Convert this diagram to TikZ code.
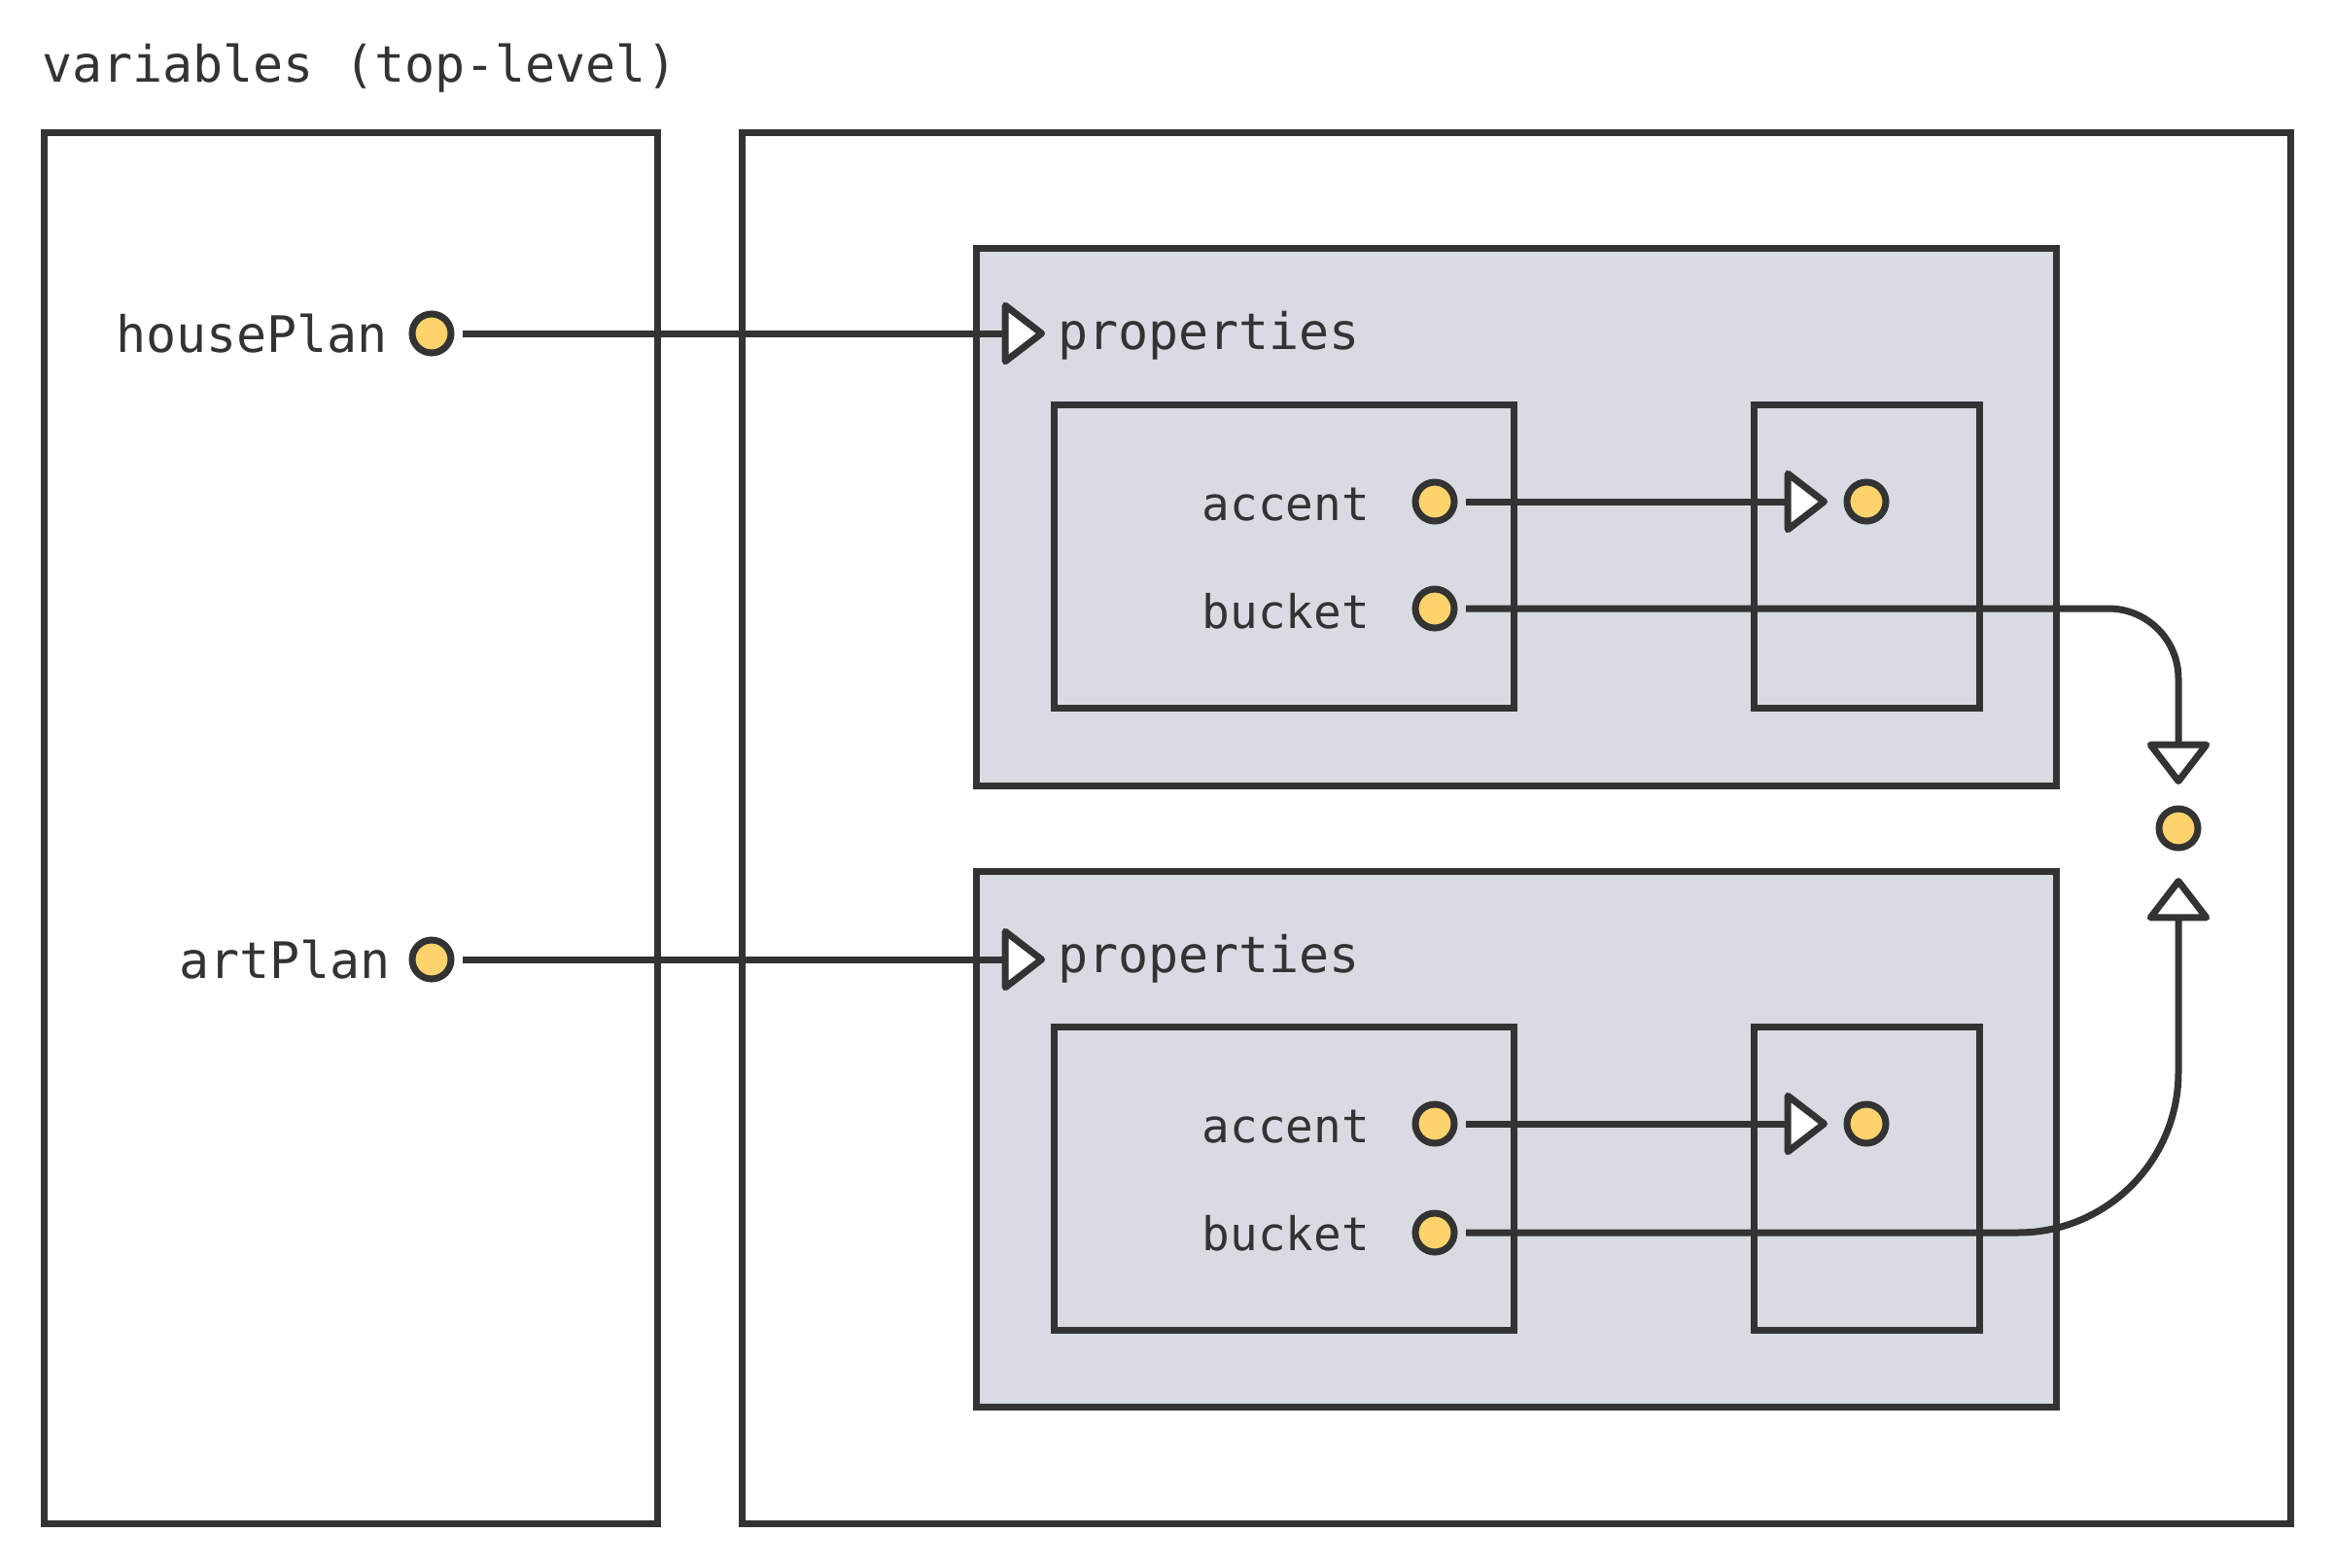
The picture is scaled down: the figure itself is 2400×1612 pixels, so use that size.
\documentclass[tikz,border=0pt]{standalone}
\usepackage{fontspec}
\setmonofont{DejaVu Sans Mono}
\usetikzlibrary{arrows.meta}
\definecolor{ink}{HTML}{333333}
\definecolor{panel}{HTML}{D8DBE2}
\definecolor{dotfill}{HTML}{FFD36B}
\begin{document}
\begin{tikzpicture}[x=0.3pt,y=-0.3pt,
  frame/.style={draw=ink,line width=2.1pt},
  panelbox/.style={frame,fill=panel},
  dot/.style={circle,draw=ink,fill=dotfill,line width=2.1pt,minimum size=12pt,inner sep=0pt,outer sep=3.6pt},
  lbl/.style={font=\ttfamily\fontsize{15.5}{18}\selectfont,text=ink,inner sep=0pt,outer sep=0pt},
  small/.style={lbl,font=\ttfamily\fontsize{14.3}{17}\selectfont},
  conn/.style={draw=ink,line width=2.1pt},
  tip/.style={-{Triangle[length=14pt,width=21pt,fill=white,round]}}]
\fill[white] (0,0) rectangle (2400,1612);
\useasboundingbox (0,0) rectangle (2400,1612);

% title
\node[lbl,anchor=base west] (title) at (43,84) {variables (top-level)};

% outer frames
\draw[frame] (45,136) rectangle (676,1567);
\draw[frame] (763,136) rectangle (2356,1567);

% upper object
\draw[panelbox] (1004,255) rectangle (2115,808);
\draw[frame] (1084,416) rectangle (1557,728);
\draw[frame] (1804,416) rectangle (2036,728);

% lower object
\draw[panelbox] (1004,896) rectangle (2115,1447);
\draw[frame] (1084,1056) rectangle (1557,1368);
\draw[frame] (1804,1056) rectangle (2036,1368);

% variables
\node[dot] (hp) at (444,343) {};
\node[dot] (ap) at (444,987) {};
\node[lbl,anchor=base east] (hpl) at (399,362) {housePlan};
\node[lbl,anchor=base east] (apl) at (402,1006) {artPlan};

% properties labels
\node[lbl,anchor=base west] (p1) at (1088,359) {properties};
\node[lbl,anchor=base west] (p2) at (1088,1000) {properties};

% upper properties
\node[dot] (a1) at (1476,516) {};
\node[dot] (b1) at (1476,626) {};
\node[dot] (r1) at (1920,516) {};
\node[small,anchor=base east] (a1l) at (1409,535) {accent};
\node[small,anchor=base east] (b1l) at (1409,646) {bucket};

% lower properties
\node[dot] (a2) at (1476,1156) {};
\node[dot] (b2) at (1476,1268) {};
\node[dot] (r2) at (1920,1156) {};
\node[small,anchor=base east] (a2l) at (1409,1175) {accent};
\node[small,anchor=base east] (b2l) at (1409,1286) {bucket};

% shared value
\node[dot] (c) at (2241,852) {};

% connectors
\draw[conn,tip,shorten >=3.9pt] (hp) -- (hp -| p1.west);
\draw[conn,tip,shorten >=3.9pt] (ap) -- (ap -| p2.west);
\draw[conn,tip,shorten >=2.4pt] (a1) -- (r1);
\draw[conn,tip,shorten >=2.4pt] (a2) -- (r2);
\draw[conn,tip,shorten >=3.9pt,rounded corners=21.6pt] (b1.east) -- (b1.east -| c) -- (c.north);
\draw[conn,tip,shorten >=5.7pt,rounded corners=49.5pt] (b2.east) -- (b2.east -| c) -- (c.south);
\end{tikzpicture}
\end{document}
